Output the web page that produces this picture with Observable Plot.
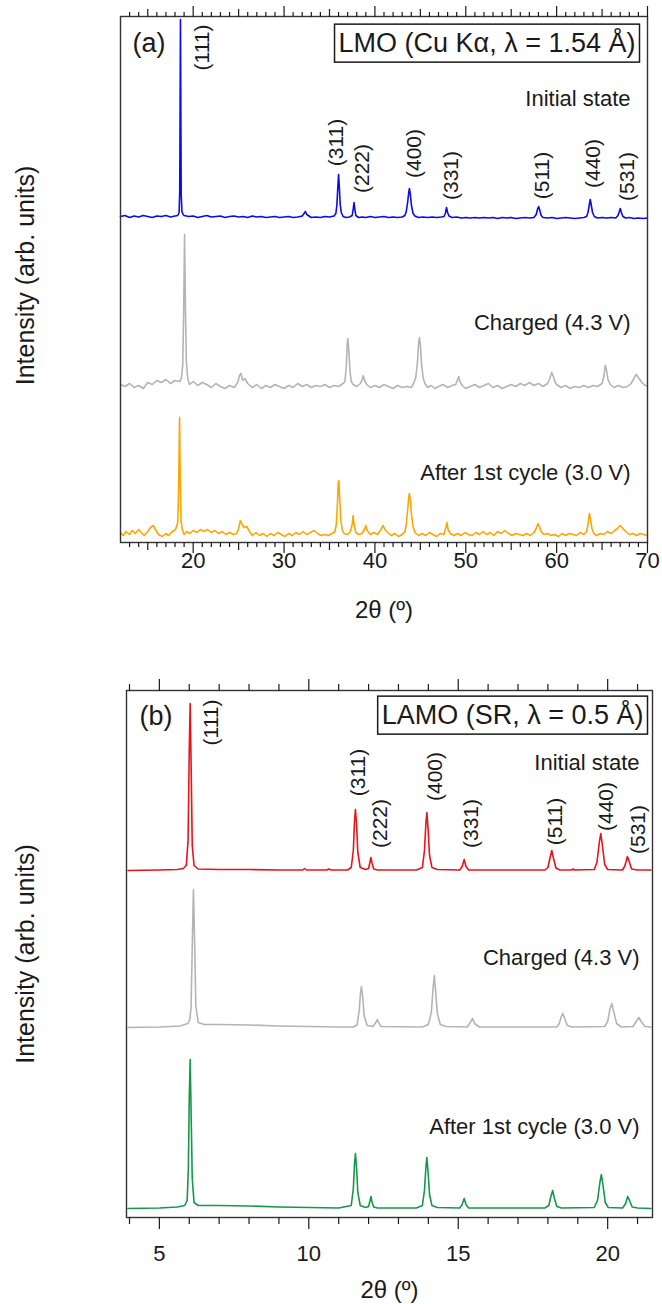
<!DOCTYPE html>
<html><head><meta charset="utf-8">
<script src="https://cdn.jsdelivr.net/npm/d3@7"></script>
<script src="https://cdn.jsdelivr.net/npm/@observablehq/plot@0.6"></script>
<style>
body{margin:0;background:#fff;}
#chart svg{display:block;}
</style></head>
<body><div id="chart"></div>
<script>
// ---------- Panel (a): LMO, Cu Kα ----------
// [2θ (°), intensity above the trace's own baseline (arb. units)]
const lmoInitial = [[12,0],[12.5,1],[13,-1],[13.5,0.5],[14,-0.5],[14.5,1],[15,0],[15.5,-1],[16,0.5],[16.5,0],[17,1],[17.5,-0.5],[18,0.5],
[18.3,1],[18.45,4],[18.52,25],[18.56,110],[18.6,197],[18.64,105],[18.68,22],[18.76,5],[18.9,2],
[19,1],[19.5,0],[20,0.5],[20.5,-1],[21,0],[21.5,1],[22,-0.5],[22.5,0],[23,0.5],[23.5,-1],[24,0],[24.5,0.5],[25,-0.5],[25.5,0],[26,-1],[26.5,0.5],[27,-0.5],[27.5,0],[28,-1],[28.5,-0.5],[29,0],[29.5,-1],[30,-0.5],[30.5,0],[31,-1],[31.5,-0.5],[32,0.5],
[32.2,3],[32.35,5],[32.5,2],
[33,-1],[33.5,-0.5],[34,-1],[34.5,0],[35,-0.5],[35.5,0.5],
[35.7,3],[35.82,12],[35.92,30],[36.0,42],[36.08,30],[36.18,12],[36.3,4],[36.5,0],
[36.8,-1],[37.2,-0.5],
[37.5,1],[37.62,8],[37.7,14],[37.78,8],[37.9,1],
[38.2,-1],[38.6,-0.5],[39,-1],[39.5,0],[40,-1],[40.5,-0.5],[41,0],[41.5,-1],[42,-0.5],[42.5,-1],[43,-0.5],[43.3,1],
[43.45,5],[43.6,14],[43.72,24],[43.8,28],[43.9,22],[44.02,11],[44.2,3],[44.4,0.5],
[44.8,-1],[45.3,-0.5],[45.8,-1],[46.3,-0.5],[46.8,-1],[47.3,-0.5],[47.6,0],
[47.75,3],[47.88,9],[48.0,4],[48.15,0.5],
[48.5,-1],[49,-0.5],[49.5,-1.5],[50,-1],[50.5,-1.5],[51,-1],[51.5,-1.5],[52,-1],[52.5,-1.5],[53,-1],[53.5,-2],[54,-1],[54.5,-1.5],[55,-1],[55.5,-2],[56,-1.5],[56.5,-1],[57,-1.5],[57.5,-1],
[57.75,2],[57.92,8],[58.02,10],[58.15,6],[58.3,1],[58.5,-1],
[59,-1.5],[59.5,-1],[60,-2],[60.5,-1.5],[61,-1],[61.5,-1.5],[62,-2],[62.5,-1.5],[63,-1],[63.3,0],
[63.45,4],[63.6,12],[63.7,17],[63.8,12],[63.95,4],[64.15,0],
[64.5,-1.5],[65,-1],[65.5,-1.5],[66,-1],[66.5,-1.5],[66.75,1],
[66.9,5],[67.0,8],[67.12,4],[67.3,0],
[67.6,-1.5],[68,-1],[68.5,-2],[69,-1.5],[69.5,-2],[70,-1.5]];

const lmoCharged = [[12,0],[12.5,-2],[13,1],[13.5,-3],[14,-1],[14.5,-4],[15,2],[15.5,0],[16,4],[16.5,2],[17,5],[17.5,1],[18,4],[18.5,3],
[18.7,6],[18.85,20],[18.95,70],[19.05,150],[19.15,75],[19.25,22],[19.4,6],
[19.6,0],[20,3],[20.5,-1],[21,2],[21.5,0],[22,-3],[22.5,1],[23,-2],[23.5,-4],[24,-1],[24.5,-3],
[24.9,2],[25.1,9],[25.25,11],[25.45,4],[25.7,6],[26,1],
[26.5,-3],[27,0],[27.5,-4],[28,-1],[28.5,-3],[29,0],[29.5,-2],[30,-4],[30.5,-1],[31,-3],[31.5,1],[32,-2],[32.5,0],[33,-3],[33.5,-1],[34,-2],[34.5,0],[35,-3],[35.5,-1],[36,-2],[36.5,1],
[36.7,3],[36.85,18],[36.95,40],[37.02,46],[37.12,35],[37.25,14],[37.4,3],[37.6,0],
[38,-2],[38.4,1],
[38.6,5],[38.72,9],[38.85,4],[39.1,0],
[39.5,-3],[40,-1],[40.5,-3],[41,0],[41.5,-2],[42,-4],[42.5,-1],[43,-3],[43.5,-2],[44,-3],[44.3,2],
[44.5,7],[44.68,22],[44.8,40],[44.9,47],[45.0,40],[45.12,22],[45.3,7],[45.5,1],
[45.8,-3],[46.2,-1],[46.6,-4],[47,-2],[47.5,0],[48,-3],[48.5,-1],[48.9,0],
[49.1,5],[49.22,8],[49.35,3],[49.6,-1],
[50,-4],[50.5,-2],[51,0],[51.5,-3],[52,-1],[52.5,1],[53,-3],[53.5,-1],[54,-4],[54.5,-2],[55,0],[55.5,-2],[56,1],[56.5,-1],[57,2],[57.5,-1],[58,1],[58.5,-2],[59,1],
[59.25,6],[59.45,12],[59.6,9],[59.8,3],[60,0],
[60.5,-3],[61,-1],[61.5,-4],[62,-2],[62.5,-3],[63,-1],[63.5,-3],[64,-1],[64.5,-2],[65,1],
[65.2,8],[65.35,19],[65.48,15],[65.65,5],[65.9,0],
[66.3,-3],[66.8,-1],[67.3,-3],[67.8,-2],[68.2,1],
[68.5,6],[68.75,10],[69,7],[69.3,3],[69.6,0],[70,-2]];

const lmoCycled = [[12,0],[12.3,-3],[12.6,1],[13,-2],[13.3,2],[13.6,-1],[14,3],[14.3,0],[14.6,-3],[15,1],[15.3,5],[15.6,7],[15.9,2],[16.2,-2],[16.6,-4],[17,-1],[17.3,-3],[17.6,0],[17.9,2],[18.1,4],
[18.3,10],[18.4,45],[18.5,115],[18.58,50],[18.66,12],[18.8,3],
[19,-2],[19.3,1],[19.6,-1],[20,2],[20.4,0],[20.8,3],[21.2,1],[21.6,3],[22,0],[22.4,2],[22.8,-1],[23.2,1],[23.6,-2],[24,0],[24.4,-2],[24.8,-1],
[25.0,4],[25.2,12],[25.4,8],[25.6,5],[25.9,6],[26.2,1],
[26.5,-3],[26.9,0],[27.3,-3],[27.7,-1],[28.1,-4],[28.5,-1],[28.9,-3],[29.3,0],[29.7,-2],[30.1,-4],[30.5,-1],[30.9,-3],[31.3,0],[31.7,-2],[32.1,1],[32.5,-2],[32.9,0],[33.3,2],[33.7,-1],[34.1,-3],[34.5,-2],[34.9,-3],[35.3,-1],[35.6,1],
[35.75,8],[35.88,30],[35.97,50],[36.03,52],[36.12,35],[36.25,12],[36.4,3],[36.6,-1],
[37,-2],[37.3,1],
[37.5,8],[37.6,17],[37.72,7],[37.9,0],
[38.2,-2],[38.6,-1],
[38.9,4],[39.0,7],[39.15,2],
[39.5,-2],[39.9,0],[40.3,-2],[40.6,2],[40.9,7],[41.1,3],[41.4,0],[41.8,-3],[42.2,-1],[42.6,-4],[43,-2],[43.3,1],
[43.45,8],[43.6,22],[43.72,35],[43.8,39],[43.9,33],[44.02,18],[44.2,6],[44.4,0],
[44.8,-3],[45.2,-1],[45.6,-3],[46,0],[46.4,-2],[46.8,-4],[47.2,-1],[47.6,-2],
[47.8,5],[47.92,10],[48.05,3],[48.3,-1],
[48.7,-3],[49.1,-1],[49.5,-3],[49.9,0],[50.3,-2],[50.7,-3],[51.1,0],[51.5,-2],[51.9,1],[52.3,-2],[52.7,0],[53.1,-3],[53.5,1],[53.9,-1],[54.3,2],[54.7,-1],[55.1,-3],[55.5,-1],[55.9,-2],[56.3,-3],[56.7,-1],[57.1,-3],[57.5,0],
[57.75,4],[57.95,9],[58.1,6],[58.3,1],[58.6,-2],
[59,-1],[59.4,-3],[59.8,-2],[60.2,-4],[60.6,-1],[61,-3],[61.4,-1],[61.8,-2],[62.2,-3],[62.6,0],[63,-2],[63.3,1],
[63.45,8],[63.6,19],[63.72,14],[63.88,4],[64.1,-1],
[64.4,-3],[64.8,-1],[65.2,-2],[65.6,1],[66,-1],[66.4,2],[66.7,4],[67.0,7],[67.3,4],[67.6,1],
[68,-2],[68.4,-1],[68.8,-3],[69.2,-1],[69.6,-2],[70,-3]];

const lmoOffsets = [326, 158, 10];          // vertical stacking of the three patterns
const lmoNames = ["Initial state", "Charged (4.3 V)", "After 1st cycle (3.0 V)"];
const lmoLabelY = [444, 220, 70];           // y of the state labels (arb. units)
const lmoHkl = ["(111)","(311)","(222)","(400)","(331)","(511)","(440)","(531)"];
const lmoHklX = [21.05, 35.76, 38.59, 44.38, 48.41, 58.46, 64.07, 67.74];
const lmoHklY = [495, 400, 374, 389, 367, 367, 379, 366];
const lmoMajor = [20, 30, 40, 50, 60, 70];
const lmoMid = [15, 25, 35, 45, 55, 65];

// ---------- Panel (b): LAMO, synchrotron ----------
const lamoInitial = [[3.95,0],[5.0,0.5],[5.6,1],[5.8,2],[5.9,5],[5.96,30],[6.0,120],[6.03,167],[6.06,110],[6.1,25],[6.16,5],[6.3,1.5],[7,1],[8,1],[9,0.5],[9.8,0.5],[9.86,2],[9.92,0.5],[10.6,0.5],[10.67,1.5],[10.74,0.5],
[11.3,0.5],[11.42,3],[11.49,20],[11.53,50],[11.56,61],[11.6,45],[11.64,18],[11.72,3],[11.9,1],[12.0,2],[12.05,9],[12.08,13],[12.11,8],[12.17,1.5],[12.3,0.5],
[13.6,0.5],[13.8,3],[13.87,20],[13.92,48],[13.95,58],[13.99,42],[14.04,15],[14.12,3],[14.3,1],[15.05,0.5],[15.13,4],[15.2,11],[15.26,4],[15.35,0.5],
[16.5,0.5],[17.9,0.5],[18.0,3],[18.08,14],[18.13,20],[18.18,13],[18.27,2.5],[18.4,0.5],[18.8,0.5],[18.85,1.5],[18.9,0.5],
[19.55,1],[19.64,8],[19.72,28],[19.77,37],[19.82,26],[19.9,6],[20.0,1],[20.5,0.5],[20.58,5],[20.66,14],[20.72,9],[20.8,1.5],[21.0,0.5],[21.45,0.5]];

const lamoCharged = [[3.95,0],[5.0,0.5],[5.7,1.5],[5.95,4],[6.02,8],[6.06,20],[6.1,80],[6.14,138],[6.18,85],[6.22,22],[6.3,5],[6.5,3],[7,3],[8,2.5],[9,1.5],[10,1],[11,0.5],
[11.5,0.5],[11.62,3],[11.69,18],[11.73,35],[11.76,41],[11.8,32],[11.85,12],[11.95,2],[12.15,1],[12.24,5],[12.29,8],[12.34,4.5],[12.42,1],
[13.8,0.5],[14.0,3],[14.1,15],[14.16,40],[14.2,52],[14.24,38],[14.3,14],[14.4,3],[14.6,1],[15.3,0.5],[15.4,5],[15.48,9],[15.55,4],[15.7,0.5],
[18.3,0.5],[18.38,4],[18.45,11],[18.5,14],[18.56,9],[18.65,2],[18.8,0.5],
[19.9,1],[20.0,6],[20.08,19],[20.14,24],[20.2,16],[20.3,4],[20.45,0.5],[20.85,1],[20.95,6],[21.04,10],[21.12,6],[21.25,1],[21.45,0.5]];

const lamoCycled = [[3.95,0],[5.0,0.5],[5.6,1.5],[5.85,3],[5.93,8],[5.97,40],[6.0,110],[6.03,149],[6.06,100],[6.1,30],[6.16,6],[6.3,3],[7,3],[8,2.5],[9,1.5],[10,1],[11,0.5],
[11.42,3],[11.49,20],[11.53,45],[11.56,55],[11.6,40],[11.64,16],[11.72,3],[11.9,1],[12.0,2],[12.05,8],[12.08,12],[12.11,7],[12.17,1.5],[12.3,0.5],
[13.6,0.5],[13.8,3],[13.87,18],[13.92,42],[13.95,51],[13.99,37],[14.04,14],[14.12,3],[14.3,1],[15.05,0.5],[15.13,4],[15.2,10],[15.26,4],[15.35,0.5],
[17.9,0.5],[18.03,3],[18.1,12],[18.16,18],[18.21,11],[18.3,2],[18.45,0.5],
[19.55,1],[19.66,8],[19.74,26],[19.79,34],[19.84,24],[19.92,6],[20.02,1],[20.5,0.5],[20.6,5],[20.67,12],[20.73,8],[20.82,1.5],[21.0,0.5],[21.45,0]];

const lamoOffsets = [347, 190, 9];
const lamoNames = ["Initial state", "Charged (4.3 V)", "After 1st cycle (3.0 V)"];
const lamoLabelY = [455, 260, 91];
const lamoHkl = ["(111)","(311)","(222)","(400)","(331)","(511)","(440)","(531)"];
const lamoHklX = [6.74, 11.64, 12.40, 14.22, 15.44, 18.25, 19.96, 21.03];
const lamoHklY = [495, 445, 394, 441, 394, 396, 411, 388];
const lamoMajor = [5, 10, 15, 20];

const FONT = "'Liberation Sans', Arial, Helvetica, sans-serif";

function buildPanel(o) {
  const rows = [];
  o.traces.forEach((pts, i) => pts.forEach(([x, y]) => rows.push({series: o.names[i], x, y: y + o.offsets[i]})));
  const stateLabels = o.names.map((n, i) => ({label: n, y: o.labelY[i]}));
  const hkl = o.hkl.map((h, i) => ({label: h, x: o.hklX[i], y: o.hklY[i]}));
  const marks = [
    Plot.line(rows, {x: "x", y: "y", z: "series", stroke: "series", strokeWidth: 1.6}),
    Plot.frame({stroke: "#333", strokeWidth: 1.4}),
    Plot.axisX({anchor: "bottom", ticks: o.minor, tickSize: o.minorSize, tickFormat: () => "", label: null, strokeWidth: 1.2}),
    Plot.axisX({anchor: "top", ticks: o.minor, tickSize: o.minorSize, tickFormat: () => "", label: null, strokeWidth: 1.2}),
    Plot.axisX({anchor: "bottom", ticks: o.major, tickSize: o.majorSize, tickPadding: o.tickPad, label: null, fontSize: 22, strokeWidth: 1.2}),
    Plot.axisX({anchor: "top", ticks: o.major, tickSize: o.majorSize, tickFormat: () => "", label: null, strokeWidth: 1.2}),
    Plot.text(hkl, {x: "x", y: "y", text: "label", rotate: -90, fontSize: 21}),
    Plot.text(stateLabels, {y: "y", text: "label", frameAnchor: "right", textAnchor: "end", lineAnchor: "middle", dx: o.stateDx, fontSize: 22}),
    Plot.text([o.panelLabel], {frameAnchor: "top-left", textAnchor: "start", lineAnchor: "middle", dx: o.panelDx, dy: o.panelDy, fontSize: 27}),
    Plot.text([o.boxText], {frameAnchor: "top-right", textAnchor: "end", lineAnchor: "middle", dx: o.boxDx, dy: o.boxDy, fontSize: 27}),
    Plot.text(["Intensity (arb. units)"], {frameAnchor: "left", textAnchor: "middle", lineAnchor: "middle", rotate: -90, dx: o.yTitleDx, dy: o.yTitleDy, fontSize: 25}),
    Plot.text(["2θ (º)"], {frameAnchor: "bottom", textAnchor: "middle", lineAnchor: "middle", dy: o.xTitleDy, fontSize: 24})
  ];
  if (o.mid) {
    marks.push(Plot.axisX({anchor: "bottom", ticks: o.mid, tickSize: 8, tickFormat: () => "", label: null, strokeWidth: 1.2}));
    marks.push(Plot.axisX({anchor: "top", ticks: o.mid, tickSize: 8, tickFormat: () => "", label: null, strokeWidth: 1.2}));
  }
  const svg = Plot.plot({
    width: 662, height: 652,
    marginTop: o.mt, marginBottom: o.mb, marginLeft: o.ml, marginRight: o.mr,
    style: {fontFamily: FONT, fontSize: "22px", color: "#1a1a1a", background: "white", overflow: "visible"},
    x: {domain: o.xDomain},
    y: {domain: o.yDomain, axis: null},
    color: {domain: o.names, range: o.colors},
    marks
  });
  document.getElementById("chart").appendChild(svg);
  // box around the radiation annotation
  const t = Array.from(svg.querySelectorAll("text")).find(e => e.textContent === o.boxText);
  if (t) {
    const bb = t.getBBox();
    const r = document.createElementNS("http://www.w3.org/2000/svg", "rect");
    r.setAttribute("x", bb.x - 4); r.setAttribute("y", bb.y - 3);
    r.setAttribute("width", bb.width + 8); r.setAttribute("height", bb.height + 7);
    r.setAttribute("fill", "white"); r.setAttribute("stroke", "#1a1a1a"); r.setAttribute("stroke-width", 1.5);
    if (t.getAttribute("transform")) r.setAttribute("transform", t.getAttribute("transform"));
    t.parentNode.insertBefore(r, t);
  }
}

buildPanel({
  traces: [lmoInitial, lmoCharged, lmoCycled], offsets: lmoOffsets, names: lmoNames,
  colors: ["#0a0af0", "#b4b4b4", "#ffa500"], labelY: lmoLabelY,
  hkl: lmoHkl, hklX: lmoHklX, hklY: lmoHklY,
  xDomain: [12, 70], yDomain: [0, 526],
  major: lmoMajor, mid: lmoMid, minor: d3.range(13, 70).filter(v => v % 5 !== 0),
  majorSize: 11, minorSize: 5, tickPad: -1,
  mt: 16, mb: 110, ml: 120, mr: 15,
  stateDx: -17, panelDx: 12, panelDy: 27, boxDx: -12, boxDy: 27, yTitleDx: -95, yTitleDy: -4, xTitleDy: 68,
  panelLabel: "(a)", boxText: "LMO (Cu Kα, λ = 1.54 Å)"
});
buildPanel({
  traces: [lamoInitial, lamoCharged, lamoCycled], offsets: lamoOffsets, names: lamoNames,
  colors: ["#e8141a", "#b4b4b4", "#16984a"], labelY: lamoLabelY,
  hkl: lamoHkl, hklX: lamoHklX, hklY: lamoHklY,
  xDomain: [3.9, 21.5], yDomain: [0, 527],
  major: lamoMajor, mid: null, minor: d3.range(4, 22).filter(v => v % 5 !== 0),
  majorSize: 12, minorSize: 7, tickPad: 16,
  mt: 38, mb: 87, ml: 126, mr: 10,
  stateDx: -13, panelDx: 13, panelDy: 26, boxDx: -9, boxDy: 25, yTitleDx: -101, yTitleDy: 0, xTitleDy: 73,
  panelLabel: "(b)", boxText: "LAMO (SR, λ = 0.5 Å)"
});
</script>
</body></html>
